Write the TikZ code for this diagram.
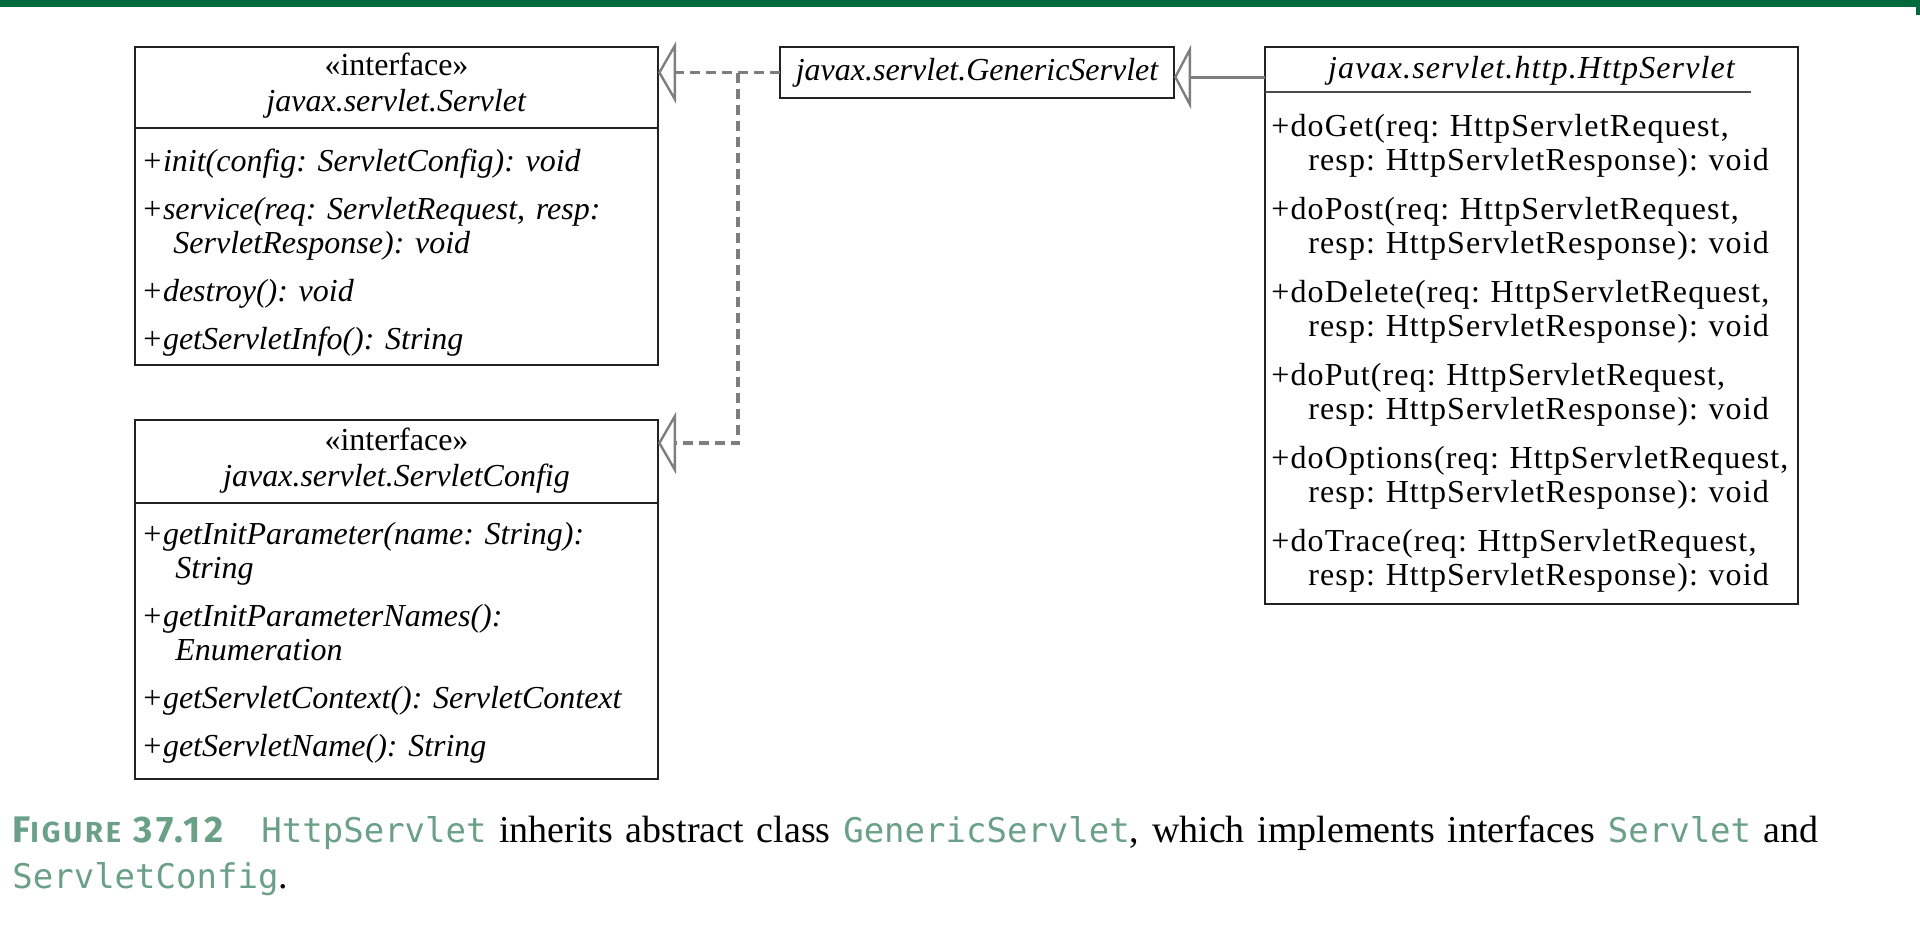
\documentclass[tikz,border=0pt]{standalone}
\usepackage{fontspec}
\setmainfont{Liberation Serif}
\newfontfamily\wideserif[LetterSpace=3.5]{Liberation Serif}
\newfontfamily\monofont{DejaVu Sans Mono}
\newfontfamily\labelfont[LetterSpace=10]{Fira Sans}
\usetikzlibrary{positioning,arrows.meta}

\definecolor{bandgreen}{HTML}{006A3E}
\definecolor{capgreen}{HTML}{6BA088}
\definecolor{boxline}{HTML}{222222}
\definecolor{linkgray}{HTML}{7E7E7E}

\newcommand{\code}[1]{{\monofont\fontsize{17}{23}\selectfont\color{capgreen}#1}}

\tikzset{
  classbox/.style = {draw=boxline, line width=1.3pt, inner sep=0pt, outer sep=0pt, anchor=north west},
  title/.style = {inner sep=0pt, anchor=base, align=center, text width=250pt, font=\fontsize{16}{18}\selectfont},
  members/.style = {inner sep=0pt, anchor=base west, align=left, text width=300pt, font=\fontsize{16}{17}\selectfont\itshape},
  implements/.style = {draw=linkgray, line width=1.6pt, dash pattern=on 5pt off 3pt,
    -{Triangle[open, length=9pt, width=31pt, line width=1.2pt]}},
  extends/.style = {draw=linkgray, line width=1.5pt,
    -{Triangle[open, length=8.5pt, width=32pt, line width=1.2pt]}}
}

\begin{document}
\frenchspacing
\begin{tikzpicture}[x=0.5pt, y=-0.5pt]
\useasboundingbox (0,0) rectangle (1920,939);
\fill[bandgreen] (0,0) rectangle (1920,7);
\fill[bandgreen] (1916,0) rectangle (1920,15);

% interface Servlet
\node[classbox, minimum width=261.5pt, minimum height=40.5pt] (servletHead) at (135,47) {};
\node[classbox, anchor=north, minimum width=261.5pt, minimum height=118.5pt, below=0pt of servletHead] (servletBody) {};
\node[title] (servletName) at ([yshift=-14pt]servletHead.north) {«interface»\\ \textit{javax.servlet.Servlet}};
\node[members] (servletOps) at ([shift={(3pt,-21.5pt)}]servletBody.north west) {%
+init(config: ServletConfig): void\\[7pt]
+service(req: ServletRequest, resp:\\
\hspace*{16pt}ServletResponse): void\\[7pt]
+destroy(): void\\[7pt]
+getServletInfo(): String};

% interface ServletConfig
\node[classbox, minimum width=261.5pt, minimum height=41.5pt] (configHead) at (135,420) {};
\node[classbox, anchor=north, minimum width=261.5pt, minimum height=138pt, below=0pt of configHead] (configBody) {};
\node[title] (configName) at ([yshift=-15pt]configHead.north) {«interface»\\ \textit{javax.servlet.ServletConfig}};
\node[members] (configOps) at ([shift={(3pt,-20.5pt)}]configBody.north west) {%
+getInitParameter(name: String):\\
\hspace*{17pt}String\\[7pt]
+getInitParameterNames():\\
\hspace*{17pt}Enumeration\\[7pt]
+getServletContext(): ServletContext\\[7pt]
+getServletName(): String};

% abstract class GenericServlet
\node[classbox, minimum width=197pt, minimum height=25.5pt, font=\fontsize{16}{17}\selectfont\itshape] (generic) at (780,47) {javax.servlet.GenericServlet};

% class HttpServlet
\node[classbox, minimum width=266.5pt, minimum height=278.5pt] (httpBox) at (1265,47) {};
\draw[draw=black!70, line width=1.3pt] ([yshift=-22.5pt]httpBox.north west) -- ++(486,0);
\node[title, font=\fontsize{16}{18}\selectfont\wideserif\itshape] (httpName) at ([yshift=-15.5pt]httpBox.north) {javax.servlet.http.HttpServlet};
\node[members, font=\fontsize{16}{17}\selectfont\wideserif] (httpOps) at ([shift={(3pt,-44.5pt)}]httpBox.north west) {%
+doGet(req: HttpServletRequest,\\
\hspace*{18.5pt}resp: HttpServletResponse): void\\[7.5pt]
+doPost(req: HttpServletRequest,\\
\hspace*{18.5pt}resp: HttpServletResponse): void\\[7.5pt]
+doDelete(req: HttpServletRequest,\\
\hspace*{18.5pt}resp: HttpServletResponse): void\\[7.5pt]
+doPut(req: HttpServletRequest,\\
\hspace*{18.5pt}resp: HttpServletResponse): void\\[7.5pt]
+doOptions(req: HttpServletRequest,\\
\hspace*{18.5pt}resp: HttpServletResponse): void\\[7.5pt]
+doTrace(req: HttpServletRequest,\\
\hspace*{18.5pt}resp: HttpServletResponse): void};

% connectors
\coordinate (split) at ([xshift=-21pt]generic.west);
\coordinate (httpIn) at ([yshift=-15pt]httpBox.north west);
\draw[implements] (generic.west) -- (generic.west -| servletHead.east);
\draw[implements] (split) |- ([yshift=-11.5pt]configHead.north east);
\draw[extends] (httpIn) -- (httpIn -| generic.east);

% caption
\node[inner sep=0pt, anchor=base west, align=left, text width=950pt, font=\fontsize{19}{23}\selectfont] (caption) at (12,842) {%
{\labelfont\bfseries\color{capgreen}\fontsize{18.5}{23}\selectfont F{\fontsize{14.5}{23}\selectfont IGURE} 37.12}\hspace{19pt}\code{HttpServlet} inherits abstract class \code{GenericServlet}, which implements interfaces \code{Servlet} and\\
\code{ServletConfig}.};
\end{tikzpicture}
\end{document}
